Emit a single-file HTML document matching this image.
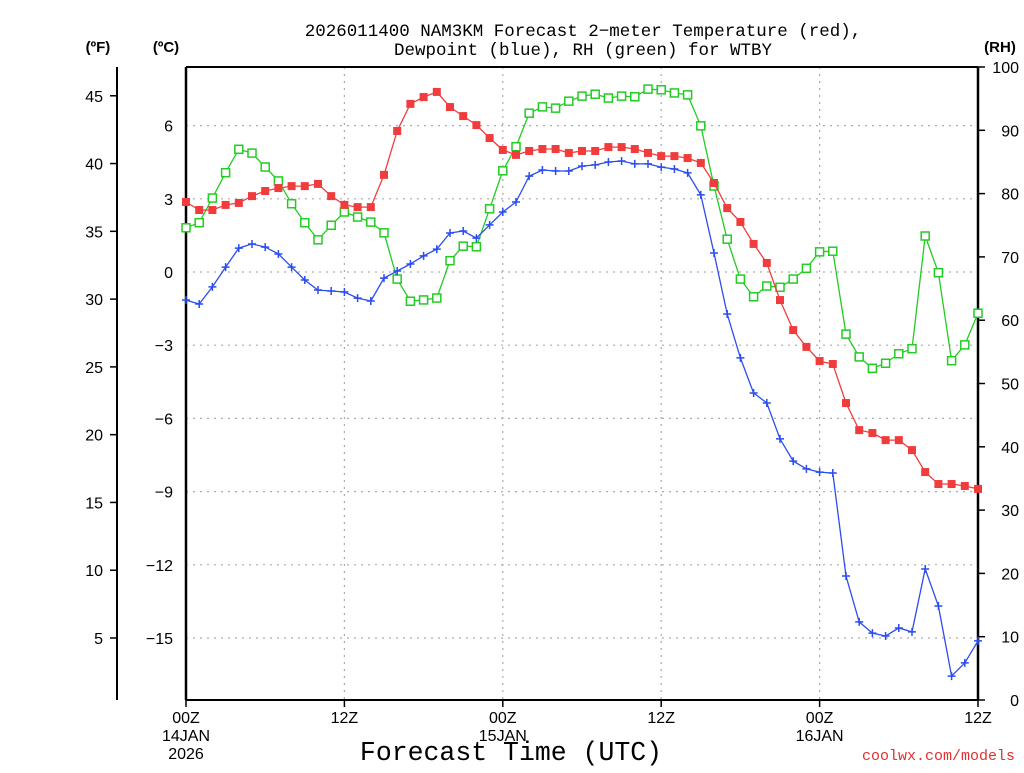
<!DOCTYPE html>
<html><head><meta charset="utf-8"><style>
body{margin:0;background:#fff}
svg text{font-family:"Liberation Sans",sans-serif;fill:#000}
</style></head><body>
<svg id="chart" width="1024" height="768" viewBox="0 0 1024 768" xmlns="http://www.w3.org/2000/svg">
<rect width="1024" height="768" fill="#fff"/>
<text x="583" y="36" font-size="17.5" text-anchor="middle" style="font-family:'Liberation Mono',monospace">2026011400 NAM3KM Forecast 2−meter Temperature (red),</text>
<text x="583" y="55" font-size="17.5" text-anchor="middle" style="font-family:'Liberation Mono',monospace">Dewpoint (blue), RH (green) for WTBY</text>
<text x="98" y="52" font-size="15" font-weight="bold" text-anchor="middle">(ºF)</text>
<text x="166" y="52" font-size="15" font-weight="bold" text-anchor="middle">(ºC)</text>
<text x="1000" y="52" font-size="15" font-weight="bold" text-anchor="middle">(RH)</text>
<g id="grid"></g>
<g id="axes"></g>
<g id="series"></g>
<text x="511" y="760" font-size="26.5" text-anchor="middle" style="font-family:'Liberation Mono',monospace">Forecast Time (UTC)</text>
<text x="1015" y="760" font-size="15" text-anchor="end" style="fill:#e03030;font-family:'Liberation Mono',monospace">coolwx.com/models</text>
</svg>
<script>
const hours = Array.from({length:61},(_,i)=>i);
const tempC = [2.87,2.54,2.54,2.75,2.83,3.11,3.32,3.44,3.52,3.52,3.61,3.11,2.75,2.66,2.66,3.98,5.78,6.89,7.17,7.38,6.76,6.39,6.02,5.49,5.0,4.80,4.96,5.04,5.04,4.88,4.96,4.96,5.12,5.12,5.04,4.88,4.75,4.75,4.67,4.47,3.65,2.62,2.05,1.15,0.37,-1.15,-2.38,-3.07,-3.65,-3.77,-5.37,-6.48,-6.60,-6.89,-6.89,-7.30,-8.20,-8.69,-8.69,-8.77,-8.89];
const dewC = [-1.15,-1.31,-0.61,0.20,0.98,1.15,1.02,0.74,0.20,-0.33,-0.74,-0.78,-0.82,-1.07,-1.19,-0.25,0.04,0.33,0.66,0.94,1.60,1.68,1.39,1.93,2.46,2.87,3.93,4.18,4.14,4.14,4.34,4.39,4.51,4.55,4.43,4.43,4.30,4.22,4.06,3.16,0.78,-1.72,-3.52,-4.96,-5.37,-6.84,-7.75,-8.07,-8.20,-8.24,-12.46,-14.34,-14.80,-14.92,-14.59,-14.75,-12.17,-13.69,-16.56,-16.02,-15.12];
const rh = [74.6,75.4,79.3,83.3,87.0,86.4,84.2,82.0,78.4,75.4,72.7,75.0,77.1,76.3,75.5,73.8,66.5,63.0,63.2,63.5,69.4,71.7,71.6,77.6,83.6,87.4,92.7,93.7,93.5,94.6,95.4,95.7,95.1,95.4,95.3,96.5,96.4,95.9,95.6,90.7,81.2,72.8,66.5,63.7,65.4,65.2,66.5,68.2,70.8,70.9,57.8,54.2,52.4,53.2,54.7,55.5,73.3,67.5,53.6,56.1,61.1];
const cTicks = [6,3,0,-3,-6,-9,-12,-15];
const fTicks = [45,40,35,30,25,20,15,10,5];
const rhTicks = [0,10,20,30,40,50,60,70,80,90,100];
const xTickHours = [0,12,24,36,48,60];
const xTickLabels = [["00Z","14JAN","2026"],["12Z"],["00Z","15JAN"],["12Z"],["00Z","16JAN"],["12Z"]];

const L=186,R=978,T=67,B=700;
const xs=h=>L+h*(R-L)/60;
const yC=c=>272-c*24.4;
const yF=f=>yC((f-32)/1.8);
const yRH=v=>B-v*(B-T)/100;
const NS="http://www.w3.org/2000/svg";
function mk(tag,attrs,parent){const e=document.createElementNS(NS,tag);for(const k in attrs)e.setAttribute(k,attrs[k]);parent.appendChild(e);return e;}
const grid=document.getElementById('grid'),axes=document.getElementById('axes'),ser=document.getElementById('series');

cTicks.forEach(c=>{
  const g=mk('line',{x1:L,x2:R,y1:yC(c),y2:yC(c),stroke:'#aaa','stroke-width':1.2,'stroke-dasharray':'2,5'},grid);
  
  
  const t=mk('text',{x:173,y:yC(c)+6,'font-size':16,'text-anchor':'end'},axes);
  t.textContent=(c<0?'−'+Math.abs(c):c);
  
  
});
xTickHours.forEach((h,i)=>{
  if(h>0&&h<60){const g=mk('line',{x1:xs(h),x2:xs(h),y1:T,y2:B,stroke:'#aaa','stroke-width':1.2,'stroke-dasharray':'2,5'},grid);
  
  }
  const tk=mk('line',{x1:xs(h),x2:xs(h),y1:B,y2:B+7,stroke:'#000','stroke-width':1.5},axes);
  
  
  xTickLabels[i].forEach((s,j)=>{
    const t=mk('text',{x:xs(h),y:723+j*18,'font-size':16,'text-anchor':'middle'},axes);
    t.textContent=s;
    
    
  });
});
fTicks.forEach(f=>{
  const tk=mk('line',{x1:110,x2:117,y1:yF(f),y2:yF(f),stroke:'#000','stroke-width':1.5},axes);
  
  
  const t=mk('text',{x:103,y:yF(f)+6,'font-size':16,'text-anchor':'end'},axes);
  t.textContent=f;
  
  
});
rhTicks.forEach(v=>{
  const tk=mk('line',{x1:R,x2:R+7,y1:yRH(v),y2:yRH(v),stroke:'#000','stroke-width':1.5},axes);
  
  
  const t=mk('text',{x:1019,y:yRH(v)+6,'font-size':16,'text-anchor':'end'},axes);
  t.textContent=v;
  
  
});
let a=mk('line',{x1:117,x2:117,y1:T,y2:B,stroke:'#000','stroke-width':2},axes);


a=mk('line',{x1:L,x2:L,y1:T,y2:B,stroke:'#000','stroke-width':2.5},axes);


a=mk('line',{x1:R,x2:R,y1:T,y2:B,stroke:'#000','stroke-width':2.5},axes);


a=mk('line',{x1:L,x2:R,y1:B,y2:B,stroke:'#000','stroke-width':2},axes);


a=mk('line',{x1:L,x2:R,y1:T,y2:T,stroke:'#000','stroke-width':2},axes);



function series(vals,yf,color,name,marker){
  const g=mk('g',{},ser);
  
  
  const pts=vals.map((v,i)=>xs(hours[i]).toFixed(1)+','+yf(v).toFixed(1)).join(' ');
  const pl=mk('polyline',{points:pts,fill:'none',stroke:color,'stroke-width':1.3},g);
  
  
  vals.forEach((v,i)=>{
    const x=xs(hours[i]),y=yf(v);let m;
    if(marker==='fill') m=mk('rect',{x:x-4,y:y-4,width:8,height:8,fill:color},g);
    else if(marker==='open') m=mk('rect',{x:x-4,y:y-4,width:8,height:8,fill:'#fff',stroke:color,'stroke-width':1.5},g);
    else m=mk('path',{d:`M${x-4},${y}H${x+4}M${x},${y-4}V${y+4}`,stroke:color,'stroke-width':1.5},g);
    
    
  });
}
series(rh,yRH,'#22cc22','rh','open');
series(tempC,yC,'#f03c3c','temperature','fill');
series(dewC,yC,'#2b4cf0','dewpoint','plus');
</script>
</body></html>
